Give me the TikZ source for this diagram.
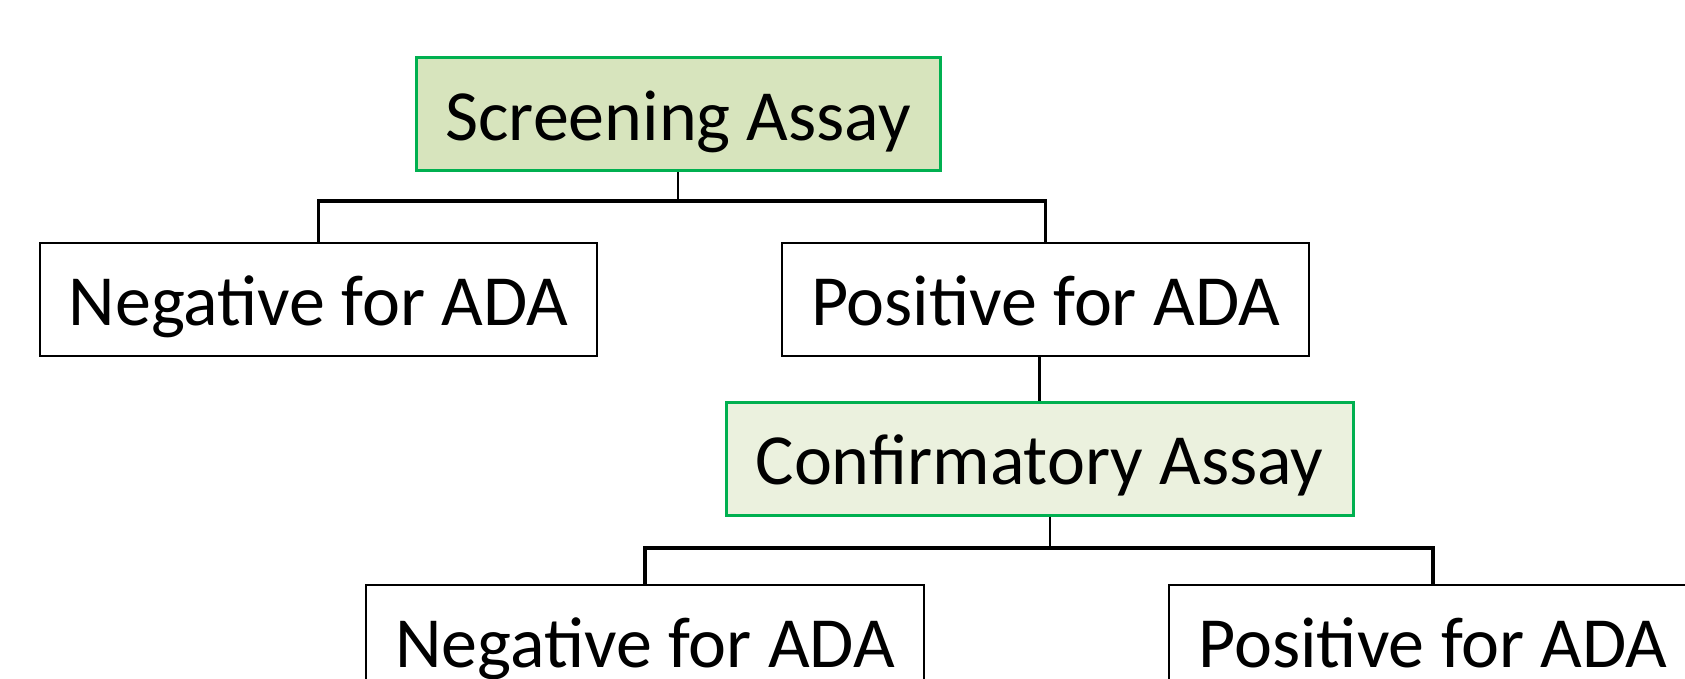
\documentclass[tikz,border=0pt]{standalone}
\usepackage{fontspec}
\setmainfont{Carlito}
\definecolor{assaygreen}{RGB}{0,176,80}
\definecolor{screenfill}{RGB}{215,228,189}
\definecolor{conffill}{RGB}{235,241,222}
\tikzset{
	result/.style={draw=black, line width=2.5pt, fill=white, minimum height=113pt, inner sep=0pt,
		text height=66pt, text depth=14pt, font=\fontsize{72}{86}\selectfont},
	assay/.style={result, draw=assaygreen, line width=3pt},
	link/.style={line width=2.5pt},
	fork/.style={line width=3.5pt}
}
\begin{document}
\begin{tikzpicture}[x=1pt, y=-1pt]
	\useasboundingbox (0,0) rectangle (1685,678);
	
	% boxes
	\node[assay, fill=screenfill, minimum width=524pt] (screen) at (678,114) {Screening Assay};
	\node[result, minimum width=557pt] (neg1) at (318.5,299.5) {Negative for ADA};
	\node[result, minimum width=527pt] (pos1) at (1045.5,299.5) {Positive for ADA};
	\node[assay, fill=conffill, minimum width=627pt] (conf) at (1039.5,458.5) {Confirmatory Assay};
	\node[result, minimum width=558pt] (neg2) at (645,641.5) {Negative for ADA};
	\node[result, minimum width=528pt] (pos2) at (1433,641.5) {Positive for ADA};
	
	% connectors
	\coordinate (fork1) at (678,201);
	\coordinate (fork2) at (1050,548);
	\draw[link] (screen.south) -- (fork1);
	\draw[fork] (neg1.north) |- (fork1) -| (pos1.north);
	\draw[link] (pos1.south -| conf.north) -- (conf.north);
	\draw[link] (conf.south -| fork2) -- (fork2);
	\draw[fork] (neg2.north) |- (fork2) -| (pos2.north);
\end{tikzpicture}
\end{document}
